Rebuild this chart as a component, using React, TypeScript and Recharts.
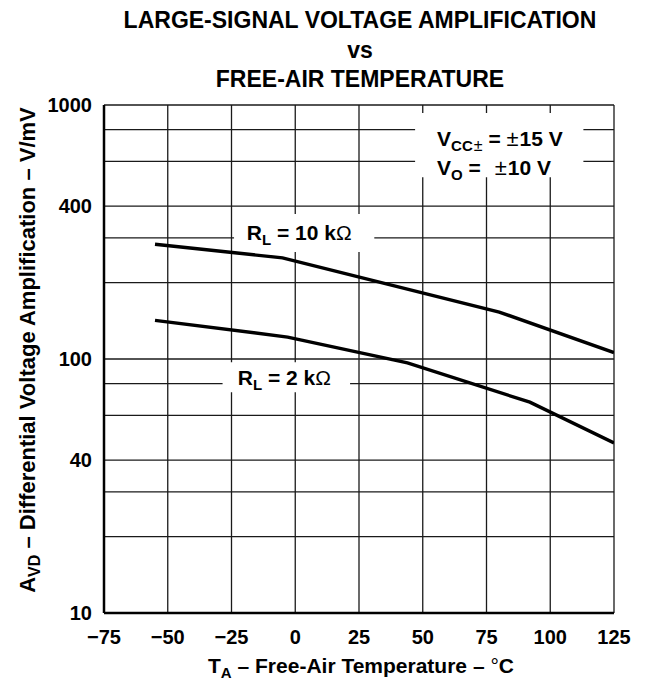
import React from 'react';
import {
  LineChart,
  Line,
  XAxis,
  YAxis,
  CartesianGrid,
  ReferenceArea
} from 'recharts';

const FONT = '"Liberation Sans", Arial, Helvetica, sans-serif';

// Free-air temperature axis, °C
const TEMP_TICKS = [-75, -50, -25, 0, 25, 50, 75, 100, 125];
// Differential voltage amplification axis, V/mV (log)
const AVD_TICKS = [10, 40, 100, 400, 1000];
const AVD_GRID = [10, 20, 30, 40, 50, 60, 70, 80, 90, 100, 200, 300, 400, 500, 600, 700, 800, 900, 1000];

// RL = 10 kΩ
const TEMP_10K = [-55, -5, 80, 125];
const AVD_10K = [283, 250, 153, 106];

// RL = 2 kΩ
const TEMP_2K = [-55, -3, 44, 92, 125];
const AVD_2K = [142, 122, 96.5, 67.6, 46.7];

const rl10k = TEMP_10K.map((t, i) => ({ temp: t, avd: AVD_10K[i] }));
const rl2k = TEMP_2K.map((t, i) => ({ temp: t, avd: AVD_2K[i] }));

const tickStyle = { fill: '#000', fontSize: 20, fontWeight: 700, fontFamily: FONT };
const fmtTemp = (v: number) => (v < 0 ? `\u2212${Math.abs(v)}` : `${v}`);

// white box label: R_L = ... kΩ
const RlLabel = ({ viewBox, value, shift = 0 }: any) => {
  if (!viewBox) return null;
  const { x, y, width, height } = viewBox;
  return (
    <text
      x={x + width / 2 + shift}
      y={y + height / 2 + 7.5}
      textAnchor="middle"
      fontFamily={FONT}
      fontWeight={700}
      fontSize={21}
      fill="#000"
    >
      <tspan>R</tspan>
      <tspan fontSize={15} dy={5}>L</tspan>
      <tspan dy={-5}>{` = ${value} k`}</tspan>
      <tspan fontWeight={400}>Ω</tspan>
    </text>
  );
};

// supply / output voltage conditions
const CondLabel = ({ viewBox }: any) => {
  if (!viewBox) return null;
  const { x, y, height } = viewBox;
  const cy = y + height / 2;
  const common = { fontFamily: FONT, fontWeight: 700, fontSize: 21, fill: '#000' };
  return (
    <g>
      <text x={x + 22} y={cy - 7 + 7.5} {...common}>
        <tspan>V</tspan>
        <tspan fontSize={15} dy={5}>CC</tspan>
        <tspan fontSize={16} fontWeight={400} dx={1}>±</tspan>
        <tspan dy={-5}>{' = '}</tspan>
        <tspan fontWeight={400} fontSize={22}>±</tspan>
        <tspan dx={1}>15 V</tspan>
      </text>
      <text x={x + 22} y={cy + 22 + 7.5} {...common}>
        <tspan>V</tspan>
        <tspan fontSize={15} dy={5}>O</tspan>
        <tspan dy={-5}>{' = '}</tspan>
        <tspan fontWeight={400} fontSize={22} dx={8}>±</tspan>
        <tspan dx={1}>10 V</tspan>
      </text>
    </g>
  );
};

const YTitle = ({ viewBox }: any) => {
  const vb = viewBox || { x: 0, y: 105, width: 104, height: 508 };
  const cx = vb.x + 27;
  const cy = vb.y + vb.height / 2 - 9;
  return (
    <text
      x={cx}
      y={cy + 8}
      transform={`rotate(-90, ${cx}, ${cy})`}
      textAnchor="middle"
      fontFamily={FONT}
      fontWeight={700}
      fontSize={22}
      fill="#000"
    >
      <tspan>A</tspan>
      <tspan fontSize={16} dy={5}>VD</tspan>
      <tspan dy={-5}>{' \u2013 Differential Voltage Amplification \u2013 V/mV'}</tspan>
    </text>
  );
};

const XTitle = ({ viewBox }: any) => {
  const vb = viewBox || { x: 104, y: 613, width: 510, height: 67 };
  return (
    <text
      x={vb.x + vb.width / 2 + 2}
      y={vb.y + 59.5}
      textAnchor="middle"
      fontFamily={FONT}
      fontWeight={700}
      fontSize={21}
      fill="#000"
    >
      <tspan>T</tspan>
      <tspan fontSize={15} dy={5}>A</tspan>
      <tspan dy={-5}>{' \u2013 Free-Air Temperature \u2013 '}</tspan>
      <tspan fontWeight={400}>°</tspan>
      <tspan>C</tspan>
    </text>
  );
};

export default function App() {
  return (
    <div style={{ position: 'absolute', left: 0, top: 0, width: 651, height: 680, background: '#fff' }}>
      <div
        style={{
          position: 'absolute',
          left: 0,
          top: 6,
          width: 720,
          textAlign: 'center',
          fontFamily: FONT,
          fontWeight: 700,
          fontSize: 23,
          lineHeight: '29.5px',
          color: '#000'
        }}
      >
        <div>LARGE-SIGNAL VOLTAGE AMPLIFICATION</div>
        <div>vs</div>
        <div>FREE-AIR TEMPERATURE</div>
      </div>

      <LineChart width={651} height={680} margin={{ top: 105, right: 37, bottom: 0, left: 0 }}>
        <CartesianGrid
          horizontalValues={AVD_GRID}
          verticalValues={TEMP_TICKS}
          stroke="#1a1a1a"
          strokeWidth={1.3}
        />

        <XAxis
          dataKey="temp"
          type="number"
          domain={[-75, 125]}
          ticks={TEMP_TICKS}
          allowDataOverflow
          height={67}
          tickLine={false}
          tickSize={6}
          tickMargin={11}
          tickFormatter={fmtTemp}
          tick={tickStyle}
          axisLine={{ stroke: '#000', strokeWidth: 2.5 }}
          label={<XTitle />}
        />
        <XAxis
          xAxisId="top"
          orientation="top"
          type="number"
          domain={[-75, 125]}
          height={0}
          tick={false}
          tickLine={false}
          axisLine={{ stroke: '#000', strokeWidth: 2.5 }}
        />
        <YAxis
          type="number"
          scale="log"
          domain={[10, 1000]}
          ticks={AVD_TICKS}
          allowDataOverflow
          width={104}
          tickLine={false}
          tickSize={6}
          tickMargin={6}
          tick={tickStyle}
          axisLine={{ stroke: '#000', strokeWidth: 2.5 }}
          label={<YTitle />}
        />
        <YAxis
          yAxisId="right"
          orientation="right"
          type="number"
          scale="log"
          domain={[10, 1000]}
          width={0}
          tick={false}
          tickLine={false}
          axisLine={{ stroke: '#000', strokeWidth: 2.5 }}
        />

        {/* label boxes masking the grid */}
        <ReferenceArea
          x1={47}
          x2={113}
          y1={520}
          y2={930}
          fill="#fff"
          fillOpacity={1}
          stroke="none"
          label={<CondLabel />}
        />
        <ReferenceArea
          x1={-24}
          x2={31}
          y1={264}
          y2={372}
          fill="#fff"
          fillOpacity={1}
          stroke="none"
          label={<RlLabel value="10" shift={-5} />}
        />
        <ReferenceArea
          x1={-28.5}
          x2={21.5}
          y1={74}
          y2={97}
          fill="#fff"
          fillOpacity={1}
          stroke="none"
          label={<RlLabel value="2" shift={-2} />}
        />

        <Line
          data={rl10k}
          dataKey="avd"
          type="linear"
          stroke="#000"
          strokeWidth={3.4}
          dot={false}
          isAnimationActive={false}
        />
        <Line
          data={rl2k}
          dataKey="avd"
          type="linear"
          stroke="#000"
          strokeWidth={3.4}
          dot={false}
          isAnimationActive={false}
        />
      </LineChart>
    </div>
  );
}
